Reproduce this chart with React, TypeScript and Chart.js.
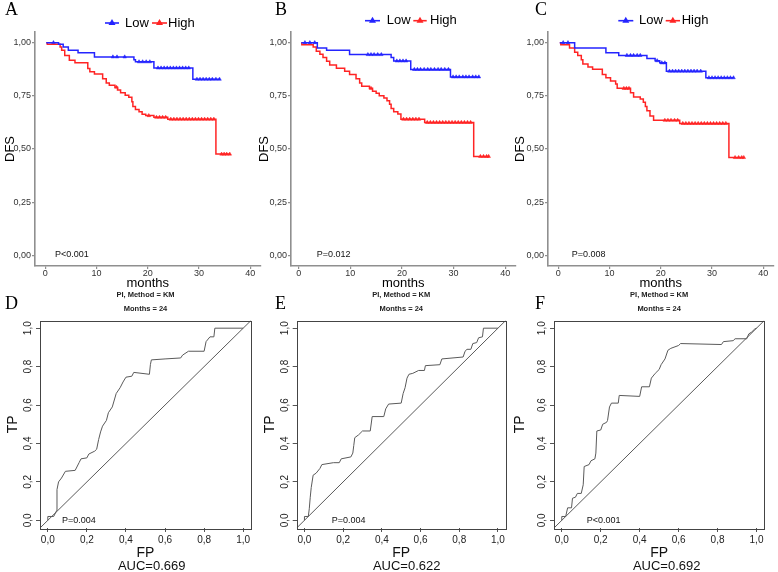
import React, { useEffect, useRef } from 'react';
import { Chart, registerables } from 'chart.js';

Chart.register(...registerables);

// ---------------- data ----------------
const GROUPS = ['Low', 'High'];
const KM_X_TICKS = [0, 10, 20, 30, 40];
const KM_Y_TICKS = [0, 0.25, 0.5, 0.75, 1];
const ROC_TICKS = [0, 0.2, 0.4, 0.6, 0.8, 1];
const KM_LETTERS = ['A', 'B', 'C'];
const ROC_LETTERS = ['D', 'E', 'F'];
const KM_P = ['P<0.001', 'P=0.012', 'P=0.008'];
const ROC_P = ['P=0.004', 'P=0.004', 'P<0.001'];
const ROC_AUC = ['AUC=0.669', 'AUC=0.622', 'AUC=0.692'];
const ROC_TITLE = ['PI, Method = KM', 'Months = 24'];
const KM_X_TITLE = 'months';
const KM_Y_TITLE = 'DFS';
const ROC_X_TITLE = 'FP';
const ROC_Y_TITLE = 'TP';

// Panel A
const A_LOW_T = [0.2, 2.6, 3.5, 4.5, 6.4, 9.6, 17.3, 17.6, 21.2, 28.8, 34.0];
const A_LOW_S = [1.0, 0.992, 0.98, 0.964, 0.952, 0.933, 0.92, 0.91, 0.881, 0.828, 0.828];
const A_LOW_CT = [1.6, 13.2, 14.0, 15.5, 18.3, 19.0, 19.7, 20.4, 22.0, 22.6, 23.2, 23.8, 24.4, 25.0, 25.6, 26.2, 26.8, 27.4, 28.0, 29.6, 30.2, 30.8, 31.4, 32.0, 32.6, 33.3, 34.0];
const A_LOW_CS = [1.0, 0.933, 0.933, 0.933, 0.91, 0.91, 0.91, 0.91, 0.881, 0.881, 0.881, 0.881, 0.881, 0.881, 0.881, 0.881, 0.881, 0.881, 0.881, 0.828, 0.828, 0.828, 0.828, 0.828, 0.828, 0.828, 0.828];
const A_HIGH_T = [0.2, 0.4, 2.9, 3.2, 3.8, 4.7, 5.8, 8.3, 8.7, 9.6, 11.2, 11.9, 12.5, 13.6, 14.1, 14.7, 15.6, 16.3, 16.9, 17.1, 17.6, 18.3, 18.9, 19.6, 21.2, 23.9, 33.3, 36.0];
const A_HIGH_S = [1.0, 0.992, 0.98, 0.964, 0.94, 0.917, 0.905, 0.878, 0.863, 0.852, 0.83, 0.81, 0.8, 0.79, 0.777, 0.764, 0.753, 0.743, 0.722, 0.70, 0.686, 0.675, 0.663, 0.657, 0.649, 0.64, 0.476, 0.476];
const A_HIGH_CT = [13.9, 20.2, 21.7, 22.3, 22.9, 23.5, 24.5, 25.1, 25.7, 26.3, 26.9, 27.5, 28.1, 28.7, 29.3, 29.9, 30.5, 31.1, 31.7, 32.3, 32.9, 34.4, 34.9, 35.4, 36.0];
const A_HIGH_CS = [0.79, 0.657, 0.649, 0.649, 0.649, 0.649, 0.64, 0.64, 0.64, 0.64, 0.64, 0.64, 0.64, 0.64, 0.64, 0.64, 0.64, 0.64, 0.64, 0.64, 0.64, 0.476, 0.476, 0.476, 0.476];

// Panel B
const B_LOW_T = [0.5, 3.6, 5.4, 9.85, 17.9, 18.4, 21.7, 29.4, 34.9];
const B_LOW_S = [1.0, 0.975, 0.964, 0.944, 0.93, 0.914, 0.874, 0.839, 0.839];
const B_LOW_CT = [1.2, 2.15, 3.1, 13.4, 14.0, 14.6, 15.3, 16.0, 19.0, 19.6, 20.2, 20.8, 22.4, 23.0, 23.6, 24.3, 25.0, 25.6, 26.3, 27.0, 27.6, 28.3, 29.0, 29.9, 30.5, 31.1, 31.8, 32.4, 33.0, 33.7, 34.3, 34.9];
const B_LOW_CS = [1.0, 1.0, 1.0, 0.944, 0.944, 0.944, 0.944, 0.944, 0.914, 0.914, 0.914, 0.914, 0.874, 0.874, 0.874, 0.874, 0.874, 0.874, 0.874, 0.874, 0.874, 0.874, 0.874, 0.839, 0.839, 0.839, 0.839, 0.839, 0.839, 0.839, 0.839, 0.839];
const B_HIGH_T = [0.5, 0.6, 2.8, 3.4, 4.1, 4.7, 5.4, 6.0, 7.3, 8.9, 9.85, 11.1, 11.8, 12.2, 13.7, 14.3, 15.0, 15.6, 16.5, 17.1, 17.6, 17.9, 18.4, 19.2, 19.8, 24.4, 33.9, 36.8];
const B_HIGH_S = [1.0, 0.99, 0.98, 0.96, 0.945, 0.93, 0.912, 0.895, 0.88, 0.865, 0.85, 0.83, 0.81, 0.795, 0.785, 0.772, 0.762, 0.75, 0.74, 0.727, 0.71, 0.69, 0.675, 0.664, 0.64, 0.625, 0.465, 0.465];
const B_HIGH_CT = [14.0, 20.3, 20.9, 21.5, 22.1, 22.7, 23.3, 24.9, 25.5, 26.1, 26.7, 27.3, 27.9, 28.5, 29.1, 29.7, 30.3, 30.9, 31.5, 32.1, 32.7, 33.3, 35.2, 35.8, 36.4, 36.8];
const B_HIGH_CS = [0.785, 0.64, 0.64, 0.64, 0.64, 0.64, 0.64, 0.625, 0.625, 0.625, 0.625, 0.625, 0.625, 0.625, 0.625, 0.625, 0.625, 0.625, 0.625, 0.625, 0.625, 0.625, 0.465, 0.465, 0.465, 0.465];

// Panel C
const C_LOW_T = [0.3, 3.2, 9.3, 11.8, 17.3, 18.9, 19.8, 21.1, 28.8, 34.2];
const C_LOW_S = [1.0, 0.975, 0.952, 0.94, 0.926, 0.915, 0.905, 0.866, 0.835, 0.835];
const C_LOW_CT = [0.96, 1.9, 13.4, 14.1, 14.7, 15.4, 16.0, 19.3, 20.2, 20.8, 21.7, 22.3, 22.9, 23.5, 24.1, 24.7, 25.3, 25.9, 26.5, 27.1, 27.8, 29.4, 30.0, 30.6, 31.2, 31.8, 32.4, 33.0, 33.6, 34.2];
const C_LOW_CS = [1.0, 1.0, 0.94, 0.94, 0.94, 0.94, 0.94, 0.915, 0.905, 0.905, 0.866, 0.866, 0.866, 0.866, 0.866, 0.866, 0.866, 0.866, 0.866, 0.866, 0.866, 0.835, 0.835, 0.835, 0.835, 0.835, 0.835, 0.835, 0.835, 0.835];
const C_HIGH_T = [0.3, 0.5, 2.2, 3.2, 3.8, 4.5, 4.8, 5.8, 6.7, 8.6, 9.3, 10.2, 11.2, 11.5, 14.1, 14.7, 16.0, 16.6, 17.0, 17.3, 17.9, 18.6, 23.7, 33.3, 36.2];
const C_HIGH_S = [1.0, 0.99, 0.975, 0.955, 0.94, 0.92, 0.9, 0.885, 0.875, 0.85, 0.835, 0.82, 0.805, 0.785, 0.765, 0.745, 0.735, 0.72, 0.70, 0.68, 0.655, 0.635, 0.62, 0.46, 0.46];
const C_HIGH_CT = [12.8, 13.3, 13.8, 20.8, 21.4, 22.0, 22.7, 23.3, 24.3, 24.9, 25.5, 26.1, 26.7, 27.3, 27.9, 28.5, 29.1, 29.7, 30.3, 30.9, 31.5, 32.1, 32.7, 34.5, 35.2, 35.8, 36.2];
const C_HIGH_CS = [0.785, 0.785, 0.785, 0.635, 0.635, 0.635, 0.635, 0.635, 0.62, 0.62, 0.62, 0.62, 0.62, 0.62, 0.62, 0.62, 0.62, 0.62, 0.62, 0.62, 0.62, 0.62, 0.62, 0.46, 0.46, 0.46, 0.46];

// ROC D
const D_FP = [0, 0, 0.03, 0.045, 0.047, 0.055, 0.07, 0.09, 0.14, 0.16, 0.17, 0.2, 0.21, 0.24, 0.25, 0.26, 0.27, 0.28, 0.3, 0.31, 0.33, 0.35, 0.37, 0.385, 0.4, 0.43, 0.44, 0.52, 0.525, 0.53, 0.6, 0.68, 0.69, 0.72, 0.8, 0.81, 0.83, 0.85, 0.855, 1.0];
const D_TP = [0, 0.02, 0.02, 0.05, 0.16, 0.2, 0.22, 0.255, 0.26, 0.3, 0.32, 0.325, 0.345, 0.36, 0.37, 0.42, 0.46, 0.49, 0.52, 0.56, 0.59, 0.66, 0.69, 0.72, 0.745, 0.75, 0.77, 0.76, 0.81, 0.835, 0.84, 0.845, 0.86, 0.88, 0.88, 0.93, 0.955, 0.955, 1.0, 1.0];
// ROC E
const E_FP = [0, 0, 0.02, 0.025, 0.03, 0.035, 0.045, 0.06, 0.08, 0.09, 0.15, 0.18, 0.19, 0.24, 0.25, 0.255, 0.26, 0.28, 0.3, 0.34, 0.35, 0.41, 0.42, 0.435, 0.5, 0.51, 0.52, 0.53, 0.54, 0.56, 0.59, 0.62, 0.625, 0.7, 0.71, 0.82, 0.83, 0.84, 0.86, 0.87, 0.89, 0.9, 0.92, 0.925, 1.0];
const E_TP = [0, 0.02, 0.02, 0.06, 0.12, 0.17, 0.235, 0.245, 0.27, 0.29, 0.3, 0.3, 0.32, 0.33, 0.35, 0.39, 0.43, 0.445, 0.465, 0.465, 0.54, 0.54, 0.58, 0.605, 0.61, 0.66, 0.69, 0.74, 0.76, 0.765, 0.78, 0.78, 0.805, 0.81, 0.84, 0.85, 0.88, 0.89, 0.89, 0.92, 0.925, 0.95, 0.955, 1.0, 1.0];
// ROC F
const F_FP = [0, 0, 0.02, 0.03, 0.05, 0.055, 0.07, 0.08, 0.1, 0.11, 0.115, 0.14, 0.15, 0.17, 0.175, 0.18, 0.2, 0.21, 0.23, 0.235, 0.245, 0.255, 0.29, 0.295, 0.4, 0.41, 0.45, 0.46, 0.48, 0.5, 0.51, 0.53, 0.545, 0.56, 0.6, 0.61, 0.82, 0.83, 0.88, 0.89, 0.95, 0.96, 0.975, 0.99, 1.0];
const F_TP = [0, 0.02, 0.02, 0.065, 0.065, 0.115, 0.12, 0.14, 0.14, 0.185, 0.28, 0.29, 0.31, 0.32, 0.35, 0.465, 0.47, 0.5, 0.51, 0.52, 0.59, 0.61, 0.61, 0.65, 0.645, 0.695, 0.695, 0.74, 0.765, 0.785, 0.81, 0.84, 0.885, 0.895, 0.91, 0.92, 0.915, 0.93, 0.935, 0.945, 0.945, 0.97, 0.98, 0.995, 1.0];

const KM_SERIES = [
  { lowT: A_LOW_T, lowS: A_LOW_S, lowCT: A_LOW_CT, lowCS: A_LOW_CS, highT: A_HIGH_T, highS: A_HIGH_S, highCT: A_HIGH_CT, highCS: A_HIGH_CS },
  { lowT: B_LOW_T, lowS: B_LOW_S, lowCT: B_LOW_CT, lowCS: B_LOW_CS, highT: B_HIGH_T, highS: B_HIGH_S, highCT: B_HIGH_CT, highCS: B_HIGH_CS },
  { lowT: C_LOW_T, lowS: C_LOW_S, lowCT: C_LOW_CT, lowCS: C_LOW_CS, highT: C_HIGH_T, highS: C_HIGH_S, highCT: C_HIGH_CT, highCS: C_HIGH_CS },
];
const ROC_SERIES = [
  { fp: D_FP, tp: D_TP },
  { fp: E_FP, tp: E_TP },
  { fp: F_FP, tp: F_TP },
];

// ---------------- layout / style ----------------
const SANS = '"Liberation Sans", Arial, Helvetica, sans-serif';
const SERIF = '"Liberation Serif", "Times New Roman", serif';
const BLUE = '#2424ff';
const RED = '#ff2424';
const KM_AXIS = '#8f8f8f';
const ROC_LINE = '#5a5a5a';

const KM_H = 295;
const KM_TOP = 32;
const KM_BOTTOM = 266;
const KM_XMAX = 42;
const KM_YMIN = -0.05;
const KM_YMAX = 1.05;

const KM_LAYOUT = [
  { cx: 0, cw: 265, l: 35, r: 263, xmin: -2, dfsPad: 2.2, legY: 23, blue: [105, 119], lowX: 125, red: [152, 167], highX: 168, letterX: 5, pX: 55 },
  { cx: 255, cw: 265, l: 291, r: 517, xmin: -1.5, dfsPad: 1.5, legY: 20.7, blue: [365, 380], lowX: 386.7, red: [413.3, 426.7], highX: 430, letterX: 275, pX: 316.7 },
  { cx: 512, cw: 266, l: 548, r: 777, xmin: -2, dfsPad: 0.2, legY: 20.7, blue: [618.3, 633.3], lowX: 639, red: [665.7, 680], highX: 681.7, letterX: 535, pX: 571.7 },
];

const ROC_CY = 285;
const ROC_H = 287;
const ROC_TOP = 320.5;
const ROC_BOTTOM = 528;
const ROC_MIN = -0.04;
const ROC_MAX = 1.04;
const ROC_LAYOUT = [
  { cx: 0, cw: 260, l: 40, r: 251, tpPad: 4.9, letterX: 5, pX: 62, aucX: 151.7 },
  { cx: 255, cw: 260, l: 296.7, r: 505.7, tpPad: 6.6, letterX: 275, pX: 331.7, aucX: 406.7 },
  { cx: 512, cw: 266, l: 554, r: 764.3, tpPad: 0, letterX: 535, pX: 586.7, aucX: 666.7 },
];

Chart.defaults.font.family = SANS;

type TextItem = { text: string; x: number; y: number; font: string; color?: string; align?: CanvasTextAlign; baseline?: CanvasTextBaseline };
type Sym = { x1: number; x2: number; y: number; color: string };

const pts = (xs: number[], ys: number[]) => xs.map((x, i) => ({ x, y: ys[i] }));

function overlay(offX: number, offY: number, texts: TextItem[], syms: Sym[], box: boolean) {
  return {
    id: 'overlay',
    afterDraw(chart: any) {
      const ctx: CanvasRenderingContext2D = chart.ctx;
      ctx.save();
      if (box) {
        const a = chart.chartArea;
        ctx.strokeStyle = '#444';
        ctx.lineWidth = 1;
        ctx.strokeRect(Math.round(a.left) + 0.5, Math.round(a.top) + 0.5, Math.round(a.right - a.left), Math.round(a.bottom - a.top));
      }
      for (const s of syms) {
        const y = s.y - offY;
        ctx.strokeStyle = s.color;
        ctx.fillStyle = s.color;
        ctx.lineWidth = 1.6;
        ctx.beginPath();
        ctx.moveTo(s.x1 - offX, y);
        ctx.lineTo(s.x2 - offX, y);
        ctx.stroke();
        const mx = (s.x1 + s.x2) / 2 - offX;
        ctx.beginPath();
        ctx.moveTo(mx - 3.5, y + 2);
        ctx.lineTo(mx + 3.5, y + 2);
        ctx.lineTo(mx, y - 4);
        ctx.closePath();
        ctx.fill();
      }
      for (const t of texts) {
        ctx.font = t.font;
        ctx.fillStyle = t.color ?? '#000';
        ctx.textAlign = t.align ?? 'left';
        ctx.textBaseline = t.baseline ?? 'middle';
        ctx.fillText(t.text, t.x - offX, t.y - offY);
      }
      ctx.restore();
    },
  };
}

function kmConfig(i: number): any {
  const s = KM_SERIES[i];
  const lay = KM_LAYOUT[i];
  const texts: TextItem[] = [
    { text: KM_LETTERS[i], x: lay.letterX, y: 15, font: `18px ${SERIF}`, baseline: 'alphabetic' },
    { text: GROUPS[0], x: lay.lowX, y: lay.legY, font: `13px ${SANS}` },
    { text: GROUPS[1], x: lay.highX, y: lay.legY, font: `13px ${SANS}` },
    { text: KM_P[i], x: lay.pX, y: 255, font: `9px ${SANS}`, color: '#111' },
  ];
  const syms: Sym[] = [
    { x1: lay.blue[0], x2: lay.blue[1], y: lay.legY, color: BLUE },
    { x1: lay.red[0], x2: lay.red[1], y: lay.legY, color: RED },
  ];
  const censor = (color: string) => ({
    showLine: false,
    pointStyle: 'triangle',
    pointRadius: 2.1,
    pointBackgroundColor: color,
    pointBorderColor: color,
    pointBorderWidth: 0.5,
    borderColor: color,
  });
  return {
    type: 'line',
    data: {
      datasets: [
        { label: GROUPS[0], data: pts(s.lowT, s.lowS), borderColor: BLUE, borderWidth: 1.5, stepped: true, pointRadius: 0, fill: false },
        { label: GROUPS[1], data: pts(s.highT, s.highS), borderColor: RED, borderWidth: 1.5, stepped: true, pointRadius: 0, fill: false },
        { label: GROUPS[0] + ' censored', data: pts(s.lowCT, s.lowCS), ...censor(BLUE) },
        { label: GROUPS[1] + ' censored', data: pts(s.highCT, s.highCS), ...censor(RED) },
      ],
    },
    options: {
      responsive: false,
      animation: false,
      events: [],
      layout: { padding: { top: KM_TOP, right: lay.cx + lay.cw - lay.r, left: 0, bottom: 0 } },
      plugins: { legend: { display: false }, tooltip: { enabled: false } },
      scales: {
        x: {
          type: 'linear',
          min: lay.xmin,
          max: KM_XMAX,
          afterBuildTicks: (ax: any) => { ax.ticks = KM_X_TICKS.map((v) => ({ value: v })); },
          afterFit: (ax: any) => { ax.height = KM_H - KM_BOTTOM; },
          grid: { display: true, drawOnChartArea: false, drawTicks: true, tickLength: 3, color: KM_AXIS, lineWidth: 1.2 },
          border: { display: true, color: KM_AXIS, width: 1.6 },
          ticks: { autoSkip: false, maxRotation: 0, padding: 0, color: '#333', font: { size: 9, lineHeight: 1 }, callback: (v: any) => String(v) },
          title: { display: true, text: KM_X_TITLE, color: '#000', font: { size: 13, lineHeight: 1.2 }, padding: { top: 0, bottom: 3.9 } },
        },
        y: {
          type: 'linear',
          min: KM_YMIN,
          max: KM_YMAX,
          afterBuildTicks: (ax: any) => { ax.ticks = KM_Y_TICKS.map((v) => ({ value: v })); },
          afterFit: (ax: any) => { ax.width = lay.l - lay.cx; },
          grid: { display: true, drawOnChartArea: false, drawTicks: true, tickLength: 3, color: KM_AXIS, lineWidth: 1.2 },
          border: { display: true, color: KM_AXIS, width: 1.6 },
          ticks: { autoSkip: false, padding: 1, color: '#333', font: { size: 9, lineHeight: 1 }, callback: (v: any) => Number(v).toFixed(2).replace('.', ',') },
          title: { display: true, text: KM_Y_TITLE, color: '#000', font: { size: 13, lineHeight: 1.2 }, padding: { top: lay.dfsPad, bottom: 0 } },
        },
      },
    },
    plugins: [overlay(lay.cx, 0, texts, syms, false)],
  };
}

function rocConfig(i: number): any {
  const s = ROC_SERIES[i];
  const lay = ROC_LAYOUT[i];
  const cxm = (lay.l + lay.r) / 2;
  const texts: TextItem[] = [
    { text: ROC_LETTERS[i], x: lay.letterX, y: 308.5, font: `18px ${SERIF}`, baseline: 'alphabetic' },
    { text: ROC_TITLE[0], x: cxm, y: 295, font: `bold 7.5px ${SANS}`, align: 'center', color: '#222' },
    { text: ROC_TITLE[1], x: cxm, y: 309, font: `bold 7.5px ${SANS}`, align: 'center', color: '#222' },
    { text: ROC_P[i], x: lay.pX, y: 520.5, font: `9px ${SANS}`, color: '#111' },
    { text: ROC_AUC[i], x: lay.aucX, y: 566.5, font: `13px ${SANS}`, align: 'center', color: '#111' },
  ];
  return {
    type: 'line',
    data: {
      datasets: [
        { label: 'ROC', data: pts(s.fp, s.tp), borderColor: ROC_LINE, borderWidth: 1, pointRadius: 0, fill: false, tension: 0 },
        { label: 'Reference', data: pts([ROC_MIN, ROC_MAX], [ROC_MIN, ROC_MAX]), borderColor: ROC_LINE, borderWidth: 1, pointRadius: 0, fill: false },
      ],
    },
    options: {
      responsive: false,
      animation: false,
      events: [],
      layout: { padding: { top: ROC_TOP - ROC_CY, right: lay.cx + lay.cw - lay.r, left: 0, bottom: 0 } },
      plugins: { legend: { display: false }, tooltip: { enabled: false } },
      scales: {
        x: {
          type: 'linear',
          min: ROC_MIN,
          max: ROC_MAX,
          afterBuildTicks: (ax: any) => { ax.ticks = ROC_TICKS.map((v) => ({ value: v })); },
          afterFit: (ax: any) => { ax.height = ROC_CY + ROC_H - ROC_BOTTOM; },
          grid: { display: true, drawOnChartArea: false, drawTicks: true, tickLength: 4, color: '#555', lineWidth: 1 },
          border: { display: false },
          ticks: { autoSkip: false, maxRotation: 0, padding: 3, color: '#222', font: { size: 10, lineHeight: 1 }, callback: (v: any) => Number(v).toFixed(1).replace('.', ',') },
          title: { display: true, text: ROC_X_TITLE, color: '#111', font: { size: 14, lineHeight: 1.2 }, padding: { top: 0, bottom: 10.3 } },
        },
        y: {
          type: 'linear',
          min: ROC_MIN,
          max: ROC_MAX,
          afterBuildTicks: (ax: any) => { ax.ticks = ROC_TICKS.map((v) => ({ value: v })); },
          afterFit: (ax: any) => { ax.width = lay.l - lay.cx; },
          grid: { display: true, drawOnChartArea: false, drawTicks: true, tickLength: 4, color: '#555', lineWidth: 1 },
          border: { display: false },
          ticks: { autoSkip: false, minRotation: 90, maxRotation: 90, crossAlign: 'center', padding: 0.8, color: '#222', font: { size: 10, lineHeight: 1 }, callback: (v: any) => Number(v).toFixed(1).replace('.', ',') },
          title: { display: true, text: ROC_Y_TITLE, color: '#111', font: { size: 14, lineHeight: 1.2 }, padding: { top: lay.tpPad, bottom: 0 } },
        },
      },
    },
    plugins: [overlay(lay.cx, ROC_CY, texts, [], true)],
  };
}

function ChartCanvas(props: { left: number; top: number; width: number; height: number; make: () => any }) {
  const ref = useRef<HTMLCanvasElement | null>(null);
  useEffect(() => {
    if (!ref.current) return;
    const chart = new Chart(ref.current, props.make());
    return () => chart.destroy();
  }, []);
  return (
    <canvas
      ref={ref}
      width={props.width}
      height={props.height}
      style={{ position: 'absolute', left: props.left, top: props.top, width: props.width, height: props.height }}
    />
  );
}

export default function App() {
  return (
    <div style={{ position: 'absolute', left: 0, top: 0, width: 778, height: 572, background: '#ffffff', overflow: 'hidden' }}>
      {KM_LAYOUT.map((lay, i) => (
        <ChartCanvas key={'km' + i} left={lay.cx} top={0} width={lay.cw} height={KM_H} make={() => kmConfig(i)} />
      ))}
      {ROC_LAYOUT.map((lay, i) => (
        <ChartCanvas key={'roc' + i} left={lay.cx} top={ROC_CY} width={lay.cw} height={ROC_H} make={() => rocConfig(i)} />
      ))}
    </div>
  );
}
